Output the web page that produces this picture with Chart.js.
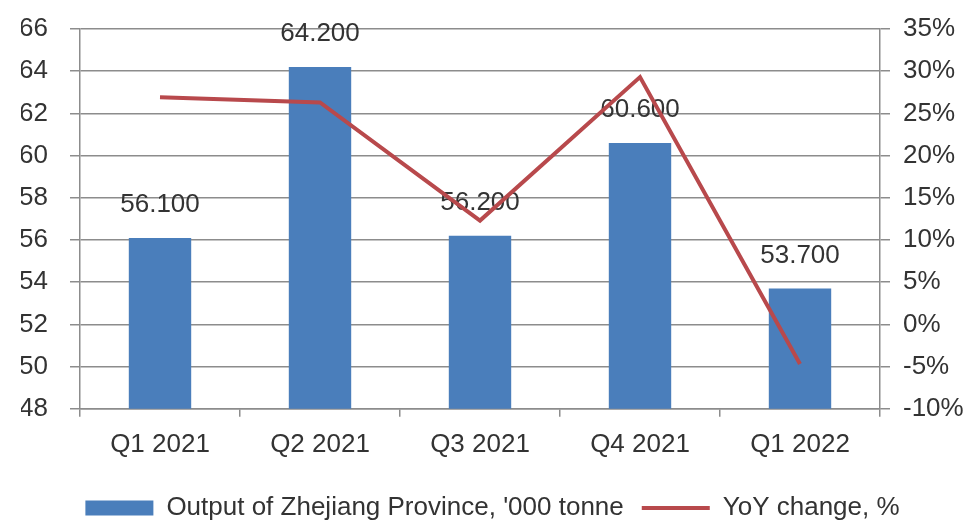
<!DOCTYPE html>
<html>
<head>
<meta charset="utf-8">
<script src="https://cdn.jsdelivr.net/npm/chart.js"></script>
<style>
  html, body { margin: 0; padding: 0; background: #fff; }
  #wrap { width: 970px; height: 522px; }
</style>
</head>
<body>
<div id="wrap"><canvas id="chart" width="970" height="522"></canvas></div>
<script>
// values
const quarters = ['Q1 2021', 'Q2 2021', 'Q3 2021', 'Q4 2021', 'Q1 2022'];
const outputValues = [56.1, 64.2, 56.2, 60.6, 53.7];   // '000 tonne
const yoyValues = [26.9, 26.3, 12.3, 29.3, -4.7];      // %
const leftTicks = [48, 50, 52, 54, 56, 58, 60, 62, 64, 66];
const rightTicks = [-10, -5, 0, 5, 10, 15, 20, 25, 30, 35];

const FONT = { family: '"Liberation Sans", Arial, sans-serif', size: 26 };
const TEXT = '#333333';
const GRID = '#8c8c8c';

// draws "56.100" style labels above the bars
const barLabels = {
  id: 'barLabels',
  afterDatasetDraw(chart, args) {
    if (args.index !== 0) return;
    const ctx = chart.ctx;
    ctx.save();
    ctx.font = FONT.size + 'px ' + FONT.family;
    ctx.fillStyle = TEXT;
    ctx.textAlign = 'center';
    ctx.textBaseline = 'middle';
    args.meta.data.forEach((bar, i) => {
      ctx.fillText(outputValues[i].toFixed(3), bar.x, bar.y - 33);
    });
    ctx.restore();
  }
};

new Chart(document.getElementById('chart'), {
  type: 'bar',
  data: {
    labels: quarters,
    datasets: [
      {
        type: 'bar',
        label: "Output of Zhejiang Province, '000 tonne",
        data: outputValues,
        backgroundColor: '#4a7ebb',
        borderWidth: 0,
        yAxisID: 'y',
        order: 1,
        pointStyle: 'rect',
        categoryPercentage: 1,
        barPercentage: 0.39
      },
      {
        type: 'line',
        label: 'YoY change, %',
        data: yoyValues,
        borderColor: '#b8494c',
        backgroundColor: '#b8494c',
        borderWidth: 4,
        pointRadius: 0,
        tension: 0,
        yAxisID: 'y1',
        order: 0,
        pointStyle: 'line'
      }
    ]
  },
  options: {
    responsive: false,
    animation: false,
    devicePixelRatio: 1,
    layout: { padding: { left: 21, right: 6, top: 29, bottom: -9 } },
    plugins: {
      tooltip: { enabled: false },
      legend: {
        position: 'bottom',
        labels: {
          font: FONT,
          color: TEXT,
          usePointStyle: true,
          pointStyleWidth: 68,
          boxHeight: 15,
          padding: 18,
          sort: (a, b) => a.datasetIndex - b.datasetIndex
        }
      }
    },
    scales: {
      x: {
        grid: { drawOnChartArea: false, drawTicks: true, tickLength: 8, color: GRID, lineWidth: 1.5 },
        border: { color: GRID, width: 1.5 },
        ticks: { font: FONT, color: TEXT, padding: 12, maxRotation: 0 },
        afterFit(scale) { scale.height += 5; }
      },
      y: {
        position: 'left',
        min: 48,
        max: 66,
        afterBuildTicks(scale) { scale.ticks = leftTicks.map(v => ({ value: v })); },
        afterFit(scale) { scale.width = 59; scale.paddingTop = 0; },
        grid: { color: GRID, lineWidth: 1.5, tickLength: 10 },
        border: { color: GRID, width: 1.5 },
        ticks: { font: FONT, color: TEXT, padding: 22 }
      },
      y1: {
        position: 'right',
        min: -10,
        max: 35,
        afterBuildTicks(scale) { scale.ticks = rightTicks.map(v => ({ value: v })); },
        afterFit(scale) { scale.width = 84; scale.paddingTop = 0; },
        grid: { drawOnChartArea: false, color: GRID, lineWidth: 1.5, tickLength: 10 },
        border: { color: GRID, width: 1.5 },
        ticks: { font: FONT, color: TEXT, padding: 13, callback: v => v + '%' }
      }
    }
  },
  plugins: [barLabels]
});
</script>
</body>
</html>
